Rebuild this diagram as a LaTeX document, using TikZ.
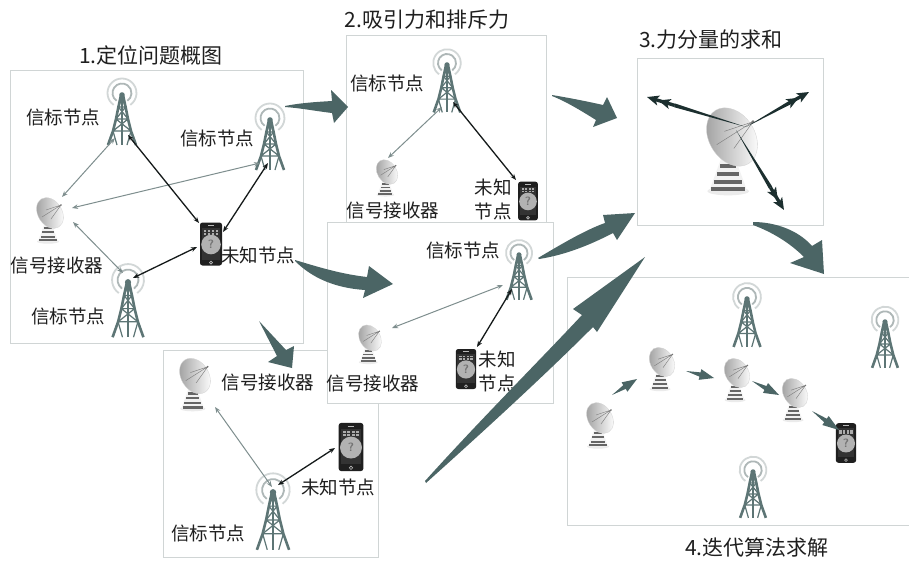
\documentclass[tikz,border=0pt]{standalone}
\usepackage{fontspec}
\newfontfamily\cjk{Noto Sans CJK SC}
\usetikzlibrary{arrows.meta,calc,shadows}

\definecolor{arrowfill}{HTML}{4B6565}
\definecolor{towerc}{HTML}{5D7575}
\definecolor{ringc}{HTML}{AEB7B7}
\definecolor{linkgray}{HTML}{7E8E8E}
\definecolor{linkdark}{HTML}{151A1A}
\definecolor{framec}{HTML}{D0D5D5}
\definecolor{forcec}{HTML}{1C2F2F}

% tapered arrow: tail, tip, fraction where the head starts, half shaft width, half head width
\newcommand\taparrow[5]{%
  \path ($(#1)!#3!(#2)$) coordinate (ta-h);
  \fill[arrowfill] (#1) -- ($(ta-h)!#4!90:(#2)$) -- ($(ta-h)!#5!90:(#2)$) -- (#2)
    -- ($(ta-h)!#5!-90:(#2)$) -- ($(ta-h)!#4!-90:(#2)$) -- cycle;
}
% force vector: a wedge widening away from the origin, ending in a double head
\newcommand\forcevec[2]{%
  \path ($(#1)!0.72!(#2)$) coordinate (fv-b);
  \fill[forcec] (#1) -- ($(fv-b)!1.9pt!90:(#2)$) -- ($(fv-b)!1.9pt!-90:(#2)$) -- cycle;
  \draw[force] (fv-b) -- (#2);
}

\tikzset{
  panel/.style={fill=white, draw=framec, line width=0.8pt,
    drop shadow={shadow xshift=1.2pt, shadow yshift=-1.2pt, opacity=0.22, fill=gray}},
  lbl/.style={font=\cjk\fontsize{18.5}{24}\selectfont, inner sep=0pt, text=black!88, align=center},
  ttl/.style={font=\cjk\fontsize{21}{23}\selectfont, inner sep=0pt, text=black!88},
  tipsm/.tip={Stealth[length=6pt,width=4.6pt]},
  glink/.style={draw=linkgray, line width=1pt, tipsm-tipsm},
  dlink/.style={draw=linkdark, line width=1.3pt, tipsm-tipsm},
  big/.style={fill=arrowfill},
  force/.style={draw=forcec, line width=3.4pt,
    -{Stealth[length=12pt,width=10pt,inset=3pt]Stealth[length=12pt,width=10pt,inset=3pt]}},
  % lattice radio tower, apex at the origin, base 52 units below
  tower/.pic={
    \draw[ringc!55!white, line width=1.8pt] (125:14.5) arc[start angle=125,end angle=415,radius=14.5];
    \draw[ringc, line width=1.8pt] (125:9.5) arc[start angle=125,end angle=415,radius=9.5];
    \draw[towerc, line width=2.6pt, line join=round] (-1.2,3) -- (-3.6,14) -- (-6,26) -- (-9,38) -- (-14,52);
    \draw[towerc, line width=2.6pt, line join=round] (1.2,3) -- (3.6,14) -- (6,26) -- (9,38) -- (14,52);
    \draw[towerc, line width=2.2pt] (0,3) -- (0,52);
    \draw[towerc, line width=1.2pt] (-3.6,14) -- (3.6,14) (-6,26) -- (6,26) (-9,38) -- (9,38)
      (-1.2,3) -- (3.6,14) (1.2,3) -- (-3.6,14)
      (-3.6,14) -- (6,26) (3.6,14) -- (-6,26)
      (-6,26) -- (9,38) (6,26) -- (-9,38)
      (-9,38) -- (-5,52) (9,38) -- (5,52);
    \fill[towerc] (0,2) circle (2.8);
  },
  % satellite dish on a striped cone, bowl centre at the origin
  dish/.pic={
    \fill[gray!16] (-2,28.5) ellipse (11 and 2.2);
    \fill[gray!10] (-4.5,8) -- (0.5,8) -- (8,28.5) -- (-12,28.5) -- cycle;
    \foreach \yy/\w in {10/2.8,14.2/4.3,18.4/5.8,22.6/7.3,26.4/8.8}
      \fill[black!60] (-2-\w,\yy) rectangle (-2+\w,\yy+2);
    \draw[black!55, line width=1.4pt] (0,2) -- (-2,9);
    \shade[left color=gray!75, right color=white, rotate=-58, draw=gray!35, line width=0.3pt]
      (0,0) ellipse (16.5 and 12);
    \draw[black!50, line width=0.45pt] (-4,-3) -- (11,-8) (1,6) -- (11,-8) (-8,4) -- (11,-8);
    \fill[black!55] (11,-8) circle (0.9);
  },
  % smartphone with a question mark, centred at the origin
  phone/.pic={
    \fill[black!88, rounded corners=2.5pt] (-11,-21.5) rectangle (11,21.5);
    \fill[gray!40!black] (-9.2,-16) rectangle (9.2,15.5);
    \foreach \yy in {-13.5,-10.5} \foreach \xx in {-6,-2,2,6}
      \fill[gray!65] (\xx-1.2,\yy-1) rectangle (\xx+1.2,\yy+1);
    \fill[gray!60] (0,0.5) circle (9.8);
    \node[font=\sffamily\bfseries\fontsize{12}{12}\selectfont, text=black!55, inner sep=0pt] (-q) at (0,0.5) {?};
    \draw[gray!55, line width=0.6pt] (0,18.6) circle (1.5);
    \draw[gray!55, line width=0.6pt] (-3,-18.8) -- (3,-18.8);
  },
}

\begin{document}
\begin{tikzpicture}[x=1pt,y=-1pt]
\clip (0,0) rectangle (909,560);
\fill[white] (0,0) rectangle (909,560);

% ---------- 1: overview ----------
\path[panel] (10,70) rectangle (303,343);
\pic (t1a) at (122,93) {tower};
\pic (t1b) at (270,118) {tower};
\pic[scale=1.1] (t1c) at (128,280) {tower};
\pic (d1) at (50,213) {dish};
\pic (ph1) at (211,244) {phone};
\node[lbl] (l1a) at (63,117) {信标节点};
\node[lbl] (l1b) at (217,138) {信标节点};
\node[lbl] (l1c) at (57,265) {信号接收器};
\node[lbl] (l1d) at (258,255) {未知节点};
\node[lbl] (l1e) at (68,316) {信标节点};
\coordinate (g1a) at (115,138); \coordinate (g1a') at (62,197);
\coordinate (g1b) at (260,163); \coordinate (g1b') at (72,208);
\coordinate (g1c) at (123,273); \coordinate (g1c') at (73,222);
\coordinate (k1a) at (128,135); \coordinate (k1a') at (199,223);
\coordinate (k1b) at (268,163); \coordinate (k1b') at (223,232);
\coordinate (k1c) at (197,247); \coordinate (k1c') at (133,278);
\draw[glink] (g1a) -- (g1a');
\draw[glink] (g1b) -- (g1b');
\draw[glink] (g1c) -- (g1c');
\draw[dlink] (k1a) -- (k1a');
\draw[dlink] (k1b) -- (k1b');
\draw[dlink] (k1c) -- (k1c');

% ---------- 2: attraction and repulsion ----------
\path[panel] (346,35) rectangle (546,232);
\pic[scale=0.95] (t2) at (447,63) {tower};
\pic[scale=0.8] (d2) at (387,172) {dish};
\pic[scale=0.9] (ph2) at (528,201) {phone};
\node[lbl] (l2a) at (387,83) {信标节点};
\node[lbl] (l2b) at (393,210) {信号接收器};
\node[lbl] (l2c) at (493,199) {未知\\节点};
\coordinate (g2) at (442,107); \coordinate (g2') at (388,158);
\coordinate (k2) at (453,102); \coordinate (k2') at (516,180);
\draw[glink] (g2) -- (g2');
\draw[dlink] (k2) -- (k2');

% ---------- 3: sum of force components ----------
\path[panel] (637,58) rectangle (823,225);
\pic[scale=1.9] (d3) at (732,137) {dish};
\coordinate (fc) at (746,127);
\coordinate (fc') at (736,130);
\coordinate (f1) at (647,97);
\coordinate (f2) at (809,92);
\coordinate (f3) at (784,210);
\forcevec{fc}{f1}
\forcevec{fc}{f2}
\forcevec{fc'}{f3}

% ---------- 4: iterative solution ----------
\path[panel] (567,277) rectangle (915,525);
\pic[scale=0.96] (t4a) at (747,297) {tower};
\pic[scale=0.92] (t4b) at (885,320) {tower};
\pic[scale=0.92] (t4c) at (753,470) {tower};
\pic (d4a) at (600,418) {dish};
\pic[scale=0.95] (d4b) at (662,362) {dish};
\pic[scale=0.95] (d4c) at (737,373) {dish};
\pic[scale=0.95] (d4d) at (795,393) {dish};
\pic[scale=0.92] (ph4) at (846,443) {phone};
\coordinate (s1) at (612,395); \coordinate (s1') at (637,379);
\coordinate (s2) at (686,371); \coordinate (s2') at (714,378);
\coordinate (s3) at (752,381); \coordinate (s3') at (779,395);
\coordinate (s4) at (812,411); \coordinate (s4') at (839,430);
\taparrow{s1}{s1'}{0.5}{2.2pt}{5.5pt}
\taparrow{s2}{s2'}{0.5}{2.2pt}{5.5pt}
\taparrow{s3}{s3'}{0.5}{2.2pt}{5.5pt}
\taparrow{s4}{s4'}{0.5}{2.2pt}{5.5pt}

% ---------- single beacon view ----------
\path[panel] (163,350) rectangle (378,557);
\pic[scale=1.15] (t5) at (273,490) {tower};
\pic[scale=1.15] (d5) at (195,376) {dish};
\pic[scale=1.12] (ph5) at (351,447) {phone};
\node[lbl] (l5a) at (268,382) {信号接收器};
\node[lbl] (l5b) at (338,487) {未知节点};
\node[lbl] (l5c) at (208,533) {信标节点};
\coordinate (g5) at (215,407); \coordinate (g5') at (272,487);
\coordinate (k5) at (278,485); \coordinate (k5') at (335,448);
\draw[glink] (g5) -- (g5');
\draw[dlink] (k5) -- (k5');

% ---------- second beacon view ----------
\path[panel] (327,222) rectangle (553,403);
\pic[scale=0.9] (t6) at (519,253) {tower};
\pic[scale=0.85] (d6) at (370,338) {dish};
\pic[scale=0.93] (ph6) at (466,369) {phone};
\node[lbl] (l6a) at (463,250) {信标节点};
\node[lbl] (l6b) at (373,383) {信号接收器};
\node[lbl] (l6c) at (497,371) {未知\\节点};
\coordinate (g6) at (503,285); \coordinate (g6') at (392,328);
\coordinate (k6) at (512,289); \coordinate (k6') at (477,347);
\draw[glink] (g6) -- (g6');
\draw[dlink] (k6) -- (k6');

% ---------- flow arrows between the steps ----------
\fill[big] (285,106) .. controls (300,103) and (315,102) .. (332,101) -- (331,90) -- (348,107)
  -- (334,123) -- (332,113) .. controls (315,111) and (300,108) .. (285,107) -- cycle;
\fill[big] (552,95) .. controls (570,98) and (590,102) .. (603,105) -- (607,97) -- (617,118)
  -- (593,127) -- (596,120) .. controls (580,110) and (565,101) .. (552,96) -- cycle;
\fill[big] (295,260) .. controls (315,266) and (340,274) .. (367,277) -- (369,266) -- (393,284)
  -- (363,298) -- (365,290) .. controls (335,288) and (312,278) .. (295,261) -- cycle;
\fill[big] (259,321) -- (286,350) -- (294,346) -- (292,368) -- (268,362) -- (277,356) -- cycle;
\fill[big] (538,258) .. controls (560,245) and (585,230) .. (605,223) -- (603,215) -- (635,213)
  -- (617,240) -- (613,233) .. controls (590,245) and (565,255) .. (539,259) -- cycle;
\fill[big] (425,481) .. controls (480,420) and (540,360) .. (582,315) -- (573,309) -- (645,257)
  -- (597,332) -- (593,327) .. controls (545,375) and (485,430) .. (426,483) -- cycle;
\fill[big] (753,222) .. controls (775,222) and (798,230) .. (812,246) -- (822,240) -- (824,274)
  -- (790,263) -- (804,257) .. controls (790,243) and (772,232) .. (753,225) -- cycle;

% ---------- step titles ----------
\node[ttl] (h1) at (151,55) {1.定位问题概图};
\node[ttl] (h2) at (427,20) {2.吸引力和排斥力};
\node[ttl] (h3) at (711,40) {3.力分量的求和};
\node[ttl] (h4) at (757,547) {4.迭代算法求解};
\end{tikzpicture}
\end{document}
